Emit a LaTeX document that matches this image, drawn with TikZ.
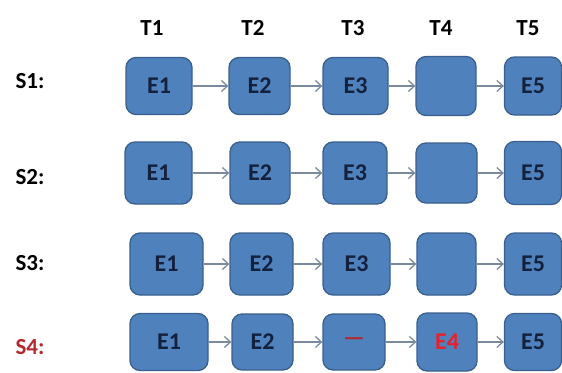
\documentclass[tikz,border=0pt]{standalone}
\usepackage{fontspec}
\setmainfont{Carlito}
\usepackage{tikz}
\usetikzlibrary{arrows.meta}

\definecolor{boxblue}{HTML}{4F81BD}
\definecolor{boxline}{HTML}{3A5F8C}
\definecolor{textnavy}{HTML}{14213D}
\definecolor{arrowgray}{HTML}{7A8A9C}
\definecolor{darkred}{HTML}{B22A2E}
\definecolor{brightred}{HTML}{E8202A}

\tikzset{
  evt/.style={shape=rectangle,rounded corners=10pt,draw=boxline,fill=boxblue,line width=1.3pt,
    inner sep=0pt,minimum width=62pt,minimum height=60pt,text=textnavy,
    font=\fontsize{24}{26}\selectfont\bfseries},
  hdr/.style={font=\fontsize{23}{25}\selectfont\bfseries,text=black,inner sep=0pt},
  lnk/.style={-{Straight Barb[length=6pt,width=11pt,line width=1.3pt]},draw=arrowgray,line width=1.5pt}
}

\begin{document}
\begin{tikzpicture}[x=1pt,y=-1pt]
\useasboundingbox (0,0) rectangle (562,372);
% time headings
\node[hdr] (T1) at (152,28) {T1};
\node[hdr] (T2) at (253,28) {T2};
\node[hdr] (T3) at (353,28) {T3};
\node[hdr] (T4) at (441,28) {T4};
\node[hdr] (T5) at (528,28) {T5};
% sequence labels
\node[hdr] (S1) at (30,81) {S1:};
\node[hdr] (S2) at (30,177) {S2:};
\node[hdr] (S3) at (30,263) {S3:};
\node[hdr,text=darkred] (S4) at (30,347) {S4:};
% row 1
\node[evt,minimum width=66pt,minimum height=57pt] (A1) at (159,86) {E1};
\node[evt,minimum width=61pt,minimum height=57pt] (A2) at (259.5,86) {E2};
\node[evt,minimum width=65pt,minimum height=57pt] (A3) at (355.5,86) {E3};
\node[evt,minimum width=60pt,minimum height=59pt] (A4) at (446,86) {};
\node[evt,minimum width=57pt,minimum height=58pt] (A5) at (533,86) {E5};
% row 2
\node[evt,minimum width=67pt,minimum height=62pt] (B1) at (158.5,173) {E1};
\node[evt,minimum width=60pt,minimum height=62pt] (B2) at (260,173) {E2};
\node[evt,minimum width=64pt,minimum height=62pt] (B3) at (355,173) {E3};
\node[evt,minimum width=61pt,minimum height=60pt] (B4) at (446.5,173) {};
\node[evt,minimum width=57pt,minimum height=63pt] (B5) at (533,173) {E5};
% row 3
\node[evt,minimum width=73pt,minimum height=62pt] (C1) at (166.5,264) {E1};
\node[evt,minimum width=63pt,minimum height=62pt] (C2) at (261.5,264) {E2};
\node[evt,minimum width=67pt,minimum height=62pt] (C3) at (356.5,264) {E3};
\node[evt,minimum width=59pt,minimum height=62pt] (C4) at (446.5,264) {};
\node[evt,minimum width=57pt,minimum height=62pt] (C5) at (533,264) {E5};
% row 4
\node[evt,minimum width=78pt,minimum height=57pt] (D1) at (169,342) {E1};
\node[evt,minimum width=61pt,minimum height=56pt] (D2) at (262.5,342) {E2};
\node[evt,minimum width=62pt,minimum height=56pt,text=darkred] (D3) at (354,342) {---};
\node[evt,minimum width=60pt,minimum height=58pt,text=brightred] (D4) at (447,342) {E4};
\node[evt,minimum width=57pt,minimum height=57pt] (D5) at (533,342) {E5};
% links
\path [lnk] (A1) edge (A2);
\path [lnk] (A2) edge (A3);
\path [lnk] (A3) edge (A4);
\path [lnk] (A4) edge (A5);
\path [lnk] (B1) edge (B2);
\path [lnk] (B2) edge (B3);
\path [lnk] (B3) edge (B4);
\path [lnk] (B4) edge (B5);
\path [lnk] (C1) edge (C2);
\path [lnk] (C2) edge (C3);
\path [lnk] (C3) edge (C4);
\path [lnk] (C4) edge (C5);
\path [lnk] (D1) edge (D2);
\path [lnk] (D2) edge (D3);
\path [lnk] (D3) edge (D4);
\path [lnk] (D4) edge (D5);
\end{tikzpicture}
\end{document}
